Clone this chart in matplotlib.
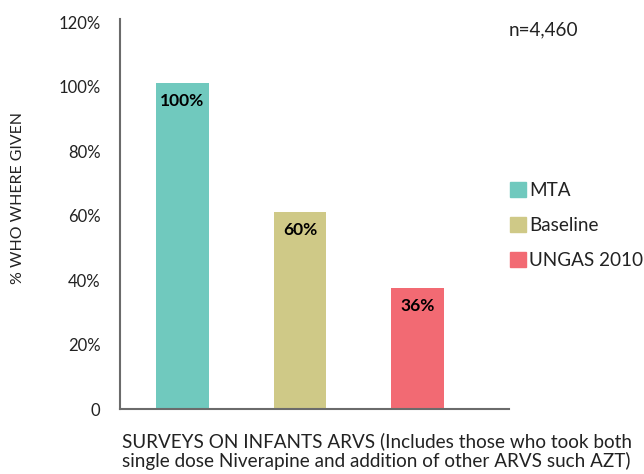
import matplotlib
matplotlib.use('Agg')
import matplotlib.pyplot as plt
from matplotlib.patches import Patch

categories = ['MTA', 'Baseline', 'UNGAS 2010']
values = [101, 61, 37.5]
bar_labels = ['100%', '60%', '36%']
colors = ['#70C9BE', '#CFC987', '#F26A73']
yticks = [0, 20, 40, 60, 80, 100, 120]
ytick_labels = ['0', '20%', '40%', '60%', '80%', '100%', '120%']

plt.rcParams['font.family'] = ['Lato', 'DejaVu Sans']

fig = plt.figure(figsize=(6.44, 4.74), dpi=100)
ax = fig.add_axes([0.1863, 0.1371, 0.6041, 0.8229])

x = range(len(categories))
ax.bar(x, values, width=0.45, color=colors)
for i, lab in enumerate(bar_labels):
    ax.text(i, values[i] - 3.0, lab, ha='center', va='top', fontsize=12.5,
            fontweight='bold', color='black')

ax.set_xlim(-0.532, 2.78)
ax.set_ylim(0, 121)
ax.set_yticks(yticks)
ax.set_yticklabels(ytick_labels, fontsize=12, color='#222222')
ax.set_xticks([])
ax.tick_params(axis='y', length=0, pad=14)

for s in ['top', 'right']:
    ax.spines[s].set_visible(False)
for s in ['left', 'bottom']:
    ax.spines[s].set_color('#6b6b6b')
    ax.spines[s].set_linewidth(1.5)

ax.set_ylabel('% WHO WHERE GIVEN', fontsize=11.4, color='#222222')
ax.yaxis.set_label_coords(-0.245, 0.54)

fig.text(0.585, 0.048, 'SURVEYS ON INFANTS ARVS (Includes those who took both\n'
         'single dose Niverapine and addition of other ARVS such AZT)',
         ha='center', va='center', fontsize=13.6, color='#222222', linespacing=1.1)

fig.text(0.79, 0.937, 'n=4,460', ha='left', va='center', fontsize=13.6, color='#222222')

handles = [Patch(color=c) for c in colors]
fig.legend(handles, categories, loc='center left', bbox_to_anchor=(0.765, 0.525),
           frameon=False, fontsize=13.6, handlelength=0.85, handleheight=0.85,
           labelspacing=0.95, handletextpad=0.2, labelcolor='#222222')

fig.savefig('out.png', dpi=100)
